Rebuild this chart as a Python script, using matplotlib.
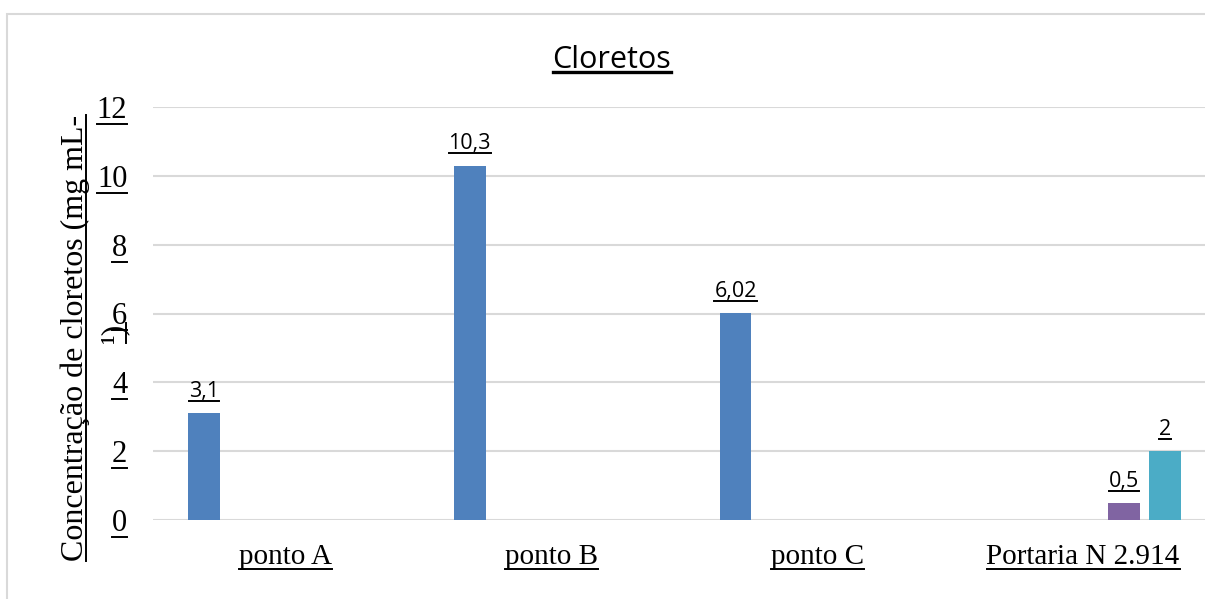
import math
import matplotlib
matplotlib.use("Agg")
import matplotlib.pyplot as plt
from matplotlib.lines import Line2D
from matplotlib.patches import Rectangle

# chloride concentration per sampling point + limits from the Portaria
categories = ['ponto A', 'ponto B', 'ponto C', 'Portaria N 2.914']
serie1 = [3.1, 10.3, 6.02, math.nan]
serie2 = [math.nan, math.nan, math.nan, math.nan]
serie3 = [math.nan, math.nan, math.nan, math.nan]
serie4 = [math.nan, math.nan, math.nan, 0.5]
serie5 = [math.nan, math.nan, math.nan, 2]
yticks = [0, 2, 4, 6, 8, 10, 12]

series = [serie1, serie2, serie3, serie4, serie5]
colors = ['#4F81BD', '#C0504D', '#9BBB59', '#8064A2', '#4BACC6']

W, H = 1205, 599
fig = plt.figure(figsize=(W / 100, H / 100), dpi=100)

def fx(px):
    return px / W

def fy(py):
    return 1 - py / H

# chart frame (runs past the right/bottom edge)
fig.add_artist(Rectangle((fx(7), fy(700)), fx(1400), (700 - 14) / H,
                         transform=fig.transFigure, fill=False,
                         edgecolor='#D9D9D9', lw=1.5))

ax = fig.add_axes([fx(153), fy(520), fx(1216 - 153), (520 - 107) / H])
ax.set_xlim(-0.5, 3.5)
ax.set_ylim(0, 12)

bw = 0.12
step = 0.154
for i, (vals, c) in enumerate(zip(series, colors)):
    off = (i - 2) * step
    for j, v in enumerate(vals):
        if math.isnan(v):
            continue
        ax.bar(j + off, v, width=bw, color=c, zorder=3)
        lbl = ('%g' % v).replace('.', ',')
        ax.annotate(lbl, (j + off, v), xytext=(0, 8), textcoords='offset points',
                    ha='center', va='bottom', fontsize=15.5, family='Open Sans',
                    color='black')

for s in ax.spines.values():
    s.set_visible(False)
ax.set_yticks(yticks)
ax.set_yticklabels([str(t) for t in yticks], family='Liberation Serif', fontsize=22)
ax.set_xticks(range(len(categories)))
ax.set_xticklabels(categories, family='Liberation Serif', fontsize=21)
ax.tick_params(axis='y', length=0, pad=18.5)
ax.tick_params(axis='x', length=0, pad=17)
ax.grid(axis='y', color='#D9D9D9', lw=1.5, zorder=0)
ax.set_axisbelow(True)

title = fig.text(fx(612), fy(60), 'Cloretos', ha='center', va='center',
                 fontsize=22, family='Open Sans')
ylab1 = fig.text(fx(75), fy(338), 'Concentração de cloretos (mg mL-',
                 rotation=90, ha='center', va='center', fontsize=23,
                 family='Liberation Serif')
ylab2 = fig.text(fx(115), fy(333), '¹)', rotation=90, ha='center', va='center',
                 fontsize=23, family='Liberation Serif')

fig.canvas.draw()
renderer = fig.canvas.get_renderer()

def underline(t, lw=1.4, gap=1):
    bb = t.get_window_extent(renderer)
    if t.get_rotation() == 90:
        x = bb.x1 - gap
        xs, ys = [x, x], [bb.y0, bb.y1]
    else:
        y = bb.y0 + gap
        xs, ys = [bb.x0, bb.x1], [y, y]
    fig.add_artist(Line2D([v / W for v in xs], [v / H for v in ys],
                          transform=fig.transFigure, color='black', lw=lw))

texts = ax.get_xticklabels() + ax.get_yticklabels()
texts += [a for a in ax.texts]
for t in texts:
    underline(t)
underline(title, lw=2.4, gap=3)
underline(ylab1, gap=4)
underline(ylab2, gap=4)

fig.savefig('out.png', dpi=100)
